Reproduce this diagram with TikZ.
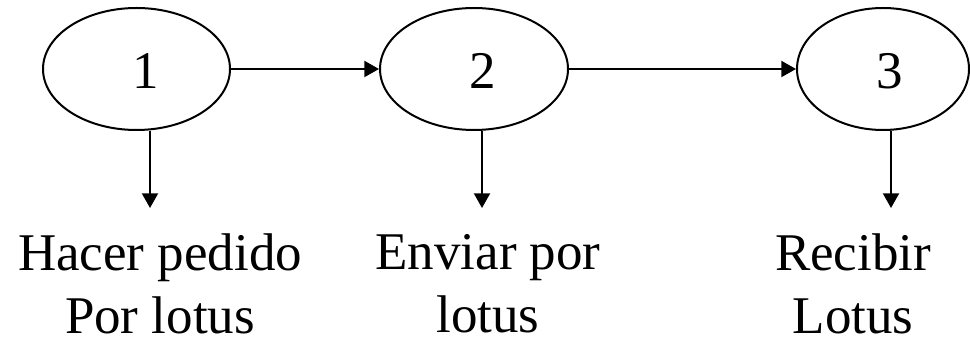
\documentclass[tikz,border=0pt]{standalone}
\usepackage{fontspec}
\setmainfont{Liberation Serif}
\usetikzlibrary{shapes.geometric,arrows.meta}
\begin{document}
\begin{tikzpicture}[x=0.75pt,y=-0.75pt,line width=1.5pt,
        >={Triangle[length=11pt,width=12pt]},
        font=\fontsize{39.75}{47.25}\selectfont]
            \useasboundingbox (0,0) rectangle (970,341);
            \begin{scope}[every node/.style={ellipse,draw,inner sep=0pt,minimum height=91.5pt}]
                \node (1) at (136.5,69) [minimum width=140.25pt] {};
                \node (2) at (474,69) [minimum width=141pt] {};
                \node (3) at (883,69) [minimum width=129pt] {};
            \end{scope}
            \begin{scope}[every node/.style={inner sep=0pt}]
                \node (n1) at (146,71) {1};
                \node (n2) at (483,71) {2};
                \node (n3) at (890,71) {3};
            \end{scope}
            \begin{scope}[every node/.style={anchor=north,align=center,inner sep=0pt}]
                \node (t1) at (160,233) {Hacer pedido\\Por lotus};
                \node (t2) at (488,233) {Enviar por\\lotus};
                \node (t3) at (853,233) {Recibir\\Lotus};
            \end{scope}
            \coordinate (d1) at (150,208);
            \coordinate (d2) at (482,208);
            \coordinate (d3) at (891,208);
            \path[->]
                (1.east) edge (2.west)
                (2.east) edge (3.west)
                (1.south -| d1) edge (d1)
                (2.south -| d2) edge (d2)
                (3.south -| d3) edge (d3);
        \end{tikzpicture}
\end{document}
